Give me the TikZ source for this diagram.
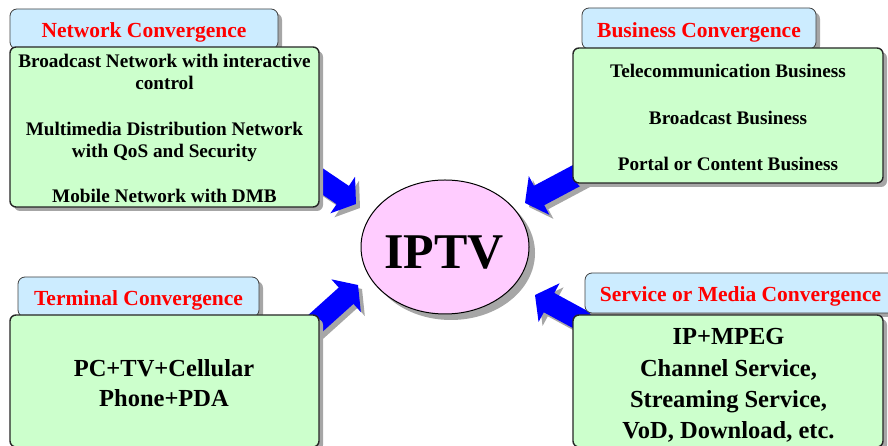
\documentclass[tikz,border=0pt]{standalone}
\usepackage{fontspec}
\setmainfont{Liberation Serif}
\usetikzlibrary{shapes.geometric,shadows}
\definecolor{bodygreen}{HTML}{CCFFCC}
\definecolor{titleblue}{HTML}{CCECFF}
\definecolor{iptvpink}{HTML}{FFCCFF}
\definecolor{shadowgray}{HTML}{A6A6A6}
\newcommand\blockarrow[2]{%
  \fill[shadowgray, shift={(#1)}, xshift=4pt, yshift=-4pt, rotate=#2]
    (0,0) -- (-16,22) -- (-16,11) -- (-70,11) -- (-70,-11) -- (-16,-11) -- (-16,-22) -- cycle;
  \fill[blue, shift={(#1)}, rotate=#2]
    (0,0) -- (-16,22) -- (-16,11) -- (-70,11) -- (-70,-11) -- (-16,-11) -- (-16,-22) -- cycle;}
\tikzset{
  boxshadow/.style={drop shadow={shadow xshift=4pt, shadow yshift=-4pt, fill=shadowgray, opacity=1}},
  titlebox/.style={draw=black!75, line width=0.8pt, fill=titleblue, rounded corners=7pt,
    boxshadow, inner sep=0pt},
  titletext/.style={inner sep=0pt, text=red, font=\bfseries\fontsize{21.5}{24}\selectfont},
  bodybox/.style={draw=black!85, line width=1.4pt, fill=bodygreen, rounded corners=6pt,
    boxshadow, inner sep=0pt},
  bodytext/.style={inner sep=0pt, align=center},
}
\begin{document}
\begin{tikzpicture}[x=1pt,y=1pt]
\useasboundingbox (0,0) rectangle (888,446);
% arrow tips
\coordinate (tipNW) at (356,242);
\coordinate (tipNE) at (525,243);
\coordinate (tipSW) at (358,161);
\coordinate (tipSE) at (535,151);
\blockarrow{tipNW}{-34}
\blockarrow{tipNE}{208}
\blockarrow{tipSW}{42}
\blockarrow{tipSE}{151.5}
% title boxes
\node[titlebox, minimum width=268pt, minimum height=40pt] (nettitle) at (144,417) {};
\node[titlebox, minimum width=234pt, minimum height=41pt] (bustitle) at (699,417.5) {};
\node[titlebox, minimum width=241pt, minimum height=40pt] (termtitle) at (138.5,149) {};
\node[titlebox, minimum width=310pt, minimum height=40pt] (servtitle) at (740,153) {};
\node[titletext] (nettitletext) at (144,413.5) {Network Convergence};
\node[titletext] (bustitletext) at (699,413.5) {Business Convergence};
\node[titletext] (termtitletext) at (138.5,145.5) {Terminal Convergence};
\node[titletext] (servtitletext) at (740.5,149.5) {Service or Media Convergence};
% body boxes
\node[bodybox, minimum width=309pt, minimum height=160pt] (netbody) at (164.5,319) {};
\node[bodybox, minimum width=310pt, minimum height=135pt] (busbody) at (728,330.5) {};
\node[bodybox, minimum width=309pt, minimum height=132pt] (termbody) at (164.5,65) {};
\node[bodybox, minimum width=310pt, minimum height=132pt] (servbody) at (728,65) {};
\node[bodytext, font=\bfseries\fontsize{19.2}{22.6}\selectfont] (nettext) at (164.5,317.5)
  {Broadcast Network with interactive\\control\\[22.6pt]Multimedia Distribution Network\\with QoS and Security\\[22.6pt]Mobile Network with DMB};
\node[bodytext, font=\bfseries\fontsize{19.2}{23.3}\selectfont] (bustext) at (728,328.5)
  {Telecommunication Business\\[23.3pt]Broadcast Business\\[23.3pt]Portal or Content Business};
\node[bodytext, font=\bfseries\fontsize{24.5}{30}\selectfont] (termtext) at (164,63)
  {PC+TV+Cellular\\Phone+PDA};
\node[bodytext, font=\bfseries\fontsize{24.5}{31.2}\selectfont] (servtext) at (728.5,60.5)
  {IP+MPEG\\Channel Service,\\Streaming Service,\\VoD, Download, etc.};
% center
\node[ellipse, draw=black, line width=1pt, fill=iptvpink, minimum width=168pt, minimum height=134pt, inner sep=0pt,
  drop shadow={shadow xshift=6pt, shadow yshift=-6pt, fill=shadowgray, opacity=1}] (iptv) at (445,199) {};
\node[inner sep=0pt, font=\bfseries\fontsize{50}{50}\selectfont] (iptvtext) at (444,193.5) {IPTV};
\end{tikzpicture}
\end{document}
